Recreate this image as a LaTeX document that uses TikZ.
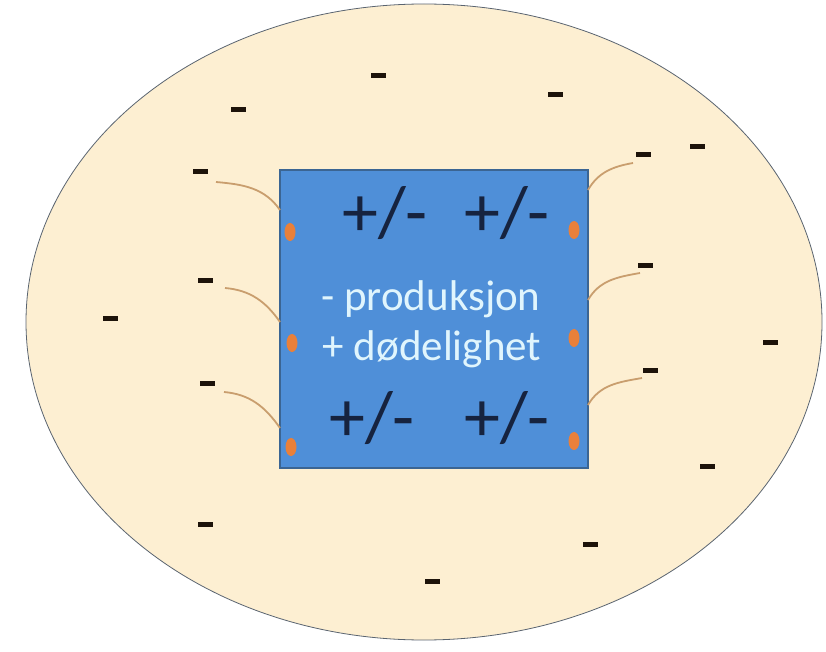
\documentclass[tikz,border=0pt]{standalone}
\usepackage{fontspec}
\setmainfont{Carlito}
\usetikzlibrary{positioning,shapes.geometric}
\definecolor{cellfill}{HTML}{FDEFD2}
\definecolor{cellline}{HTML}{5A6470}
\definecolor{boxfill}{HTML}{4F8FD8}
\definecolor{boxline}{HTML}{3B6593}
\definecolor{dotc}{HTML}{E9803A}
\definecolor{linkc}{HTML}{C99E6E}
\definecolor{signc}{HTML}{16233F}
\tikzset{minus/.style={fill=black!85!brown,minimum width=15pt,minimum height=5pt,inner sep=0pt},
pm/.style={font=\fontsize{72}{72}\selectfont,text=signc,inner sep=0pt},
link/.style={draw=linkc,line width=1.8pt}}

\begin{document}
\begin{tikzpicture}[x=1pt,y=-1pt]
\tikzstyle{blob}=[ellipse,fill=dotc,minimum width=11pt,minimum height=18pt,inner sep=0pt]
\tikzstyle{inner}=[text=white!88!cyan,font=\fontsize{43}{43}\selectfont,inner sep=0pt]
\useasboundingbox (0,0) rectangle (826,652);

   \path[fill=cellfill,draw=cellline,line width=0.8pt] (424,322) ellipse (398 and 318);
   \node[draw=boxline,fill=boxfill,line width=1.2pt,minimum width=308pt,minimum height=298pt,inner sep=0pt] (box) at (434,319) {};

   % plus/minus inside
   \node[pm] (pm1) at (385,213) {+/-};
   \node[pm] (pm2) at (507,213) {+/-};
   \node[pm] (pm3) at (372,418) {+/-};
   \node[pm] (pm4) at (507,418) {+/-};

   \node[inner,anchor=base] (prod) at (431,310) {- produksjon};
   \node[inner,anchor=base] (dod) at (432,360) {+ dødelighet};

   % dots on the edge
   \node[blob] (d1) at (290,232) {};
   \node[blob] (d2) at (292,343) {};
   \node[blob] (d3) at (291,447) {};
   \node[blob] (d4) at (574,230) {};
   \node[blob] (d5) at (574,338) {};
   \node[blob] (d6) at (574,441) {};

   % the minus signs
   \foreach \n/\x/\y in {m1/378/76, m2/555/95, m3/238/110, m4/200/172, m5/643/155, m6/697/147, m7/205/280, m8/645/265, m9/110/318, m10/770/342, m11/207/383, m12/650/370, m13/707/466, m14/205/524, m15/590/544, m16/432/581}
      \node[minus] (\n) at (\x,\y) {};

   \coordinate (e1) at (280,210);
   \coordinate (e2) at (280,322);
   \coordinate (e3) at (280,428);
   \coordinate (e4) at (588,190);
   \coordinate (e5) at (588,300);
   \coordinate (e6) at (588,405);

   \draw[link] ([shift={(16,10)}]m4.center) to[out=-5,in=125] (e1);
   \draw[link] ([shift={(20,8)}]m7.center) to[out=-5,in=125] (e2);
   \draw[link] ([shift={(17,9)}]m11.center) to[out=-5,in=125] (e3);
   \draw[link] ([shift={(-10,8)}]m5.center) to[out=190,in=60] (e4);
   \draw[link] ([shift={(-5,8)}]m8.center) to[out=190,in=60] (e5);
   \draw[link] ([shift={(-8,8)}]m12.center) to[out=190,in=60] (e6);
\end{tikzpicture}
\end{document}
